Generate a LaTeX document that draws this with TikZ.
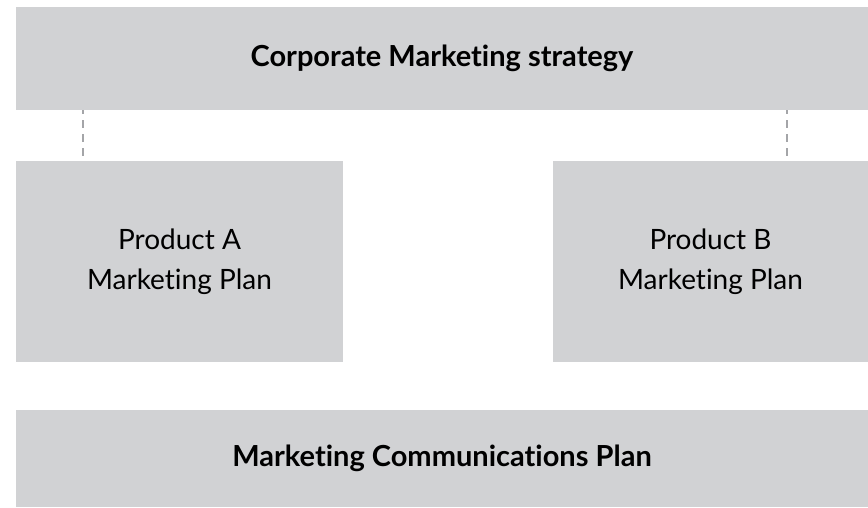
\documentclass[tikz,border=0pt]{standalone}
\usepackage{fontspec}
\setmainfont{Lato}[RawFeature={-liga;-dlig}]
\usetikzlibrary{positioning}

\definecolor{boxgray}{HTML}{D1D2D4}
\definecolor{dashgray}{HTML}{A4A5A8}

\begin{document}
\begin{tikzpicture}[x=1pt, y=-1pt,
  block/.style={fill=boxgray, inner sep=0pt, align=center,
    font=\fontsize{28}{40}\selectfont},
  headbox/.style={block, font=\fontsize{29}{40}\selectfont\bfseries,
    minimum width=852pt},
  planbox/.style={block, minimum height=201pt},
  link/.style={draw=dashgray, line width=2pt, dash pattern=on 8pt off 6pt, dash phase=4pt}]
\useasboundingbox (0,0) rectangle (868,507);
\node [headbox, minimum height=103pt] (corp) at (442,58.5) {Corporate Marketing strategy};
\node [planbox, minimum width=327pt] (prodA) at (179.5,261.5) {Product A\\Marketing Plan};
\node [planbox, minimum width=315pt] (prodB) at (710.5,261.5) {Product B\\Marketing Plan};
\node [headbox, minimum height=97pt] (comms) at (442,458.5) {Marketing Communications Plan};
% dashed links
\coordinate (la) at (83,0);
\coordinate (lb) at (786.5,0);
\draw [link] (corp.south -| la) -- (prodA.north -| la);
\draw [link] (corp.south -| lb) -- (prodB.north -| lb);
\end{tikzpicture}
\end{document}
